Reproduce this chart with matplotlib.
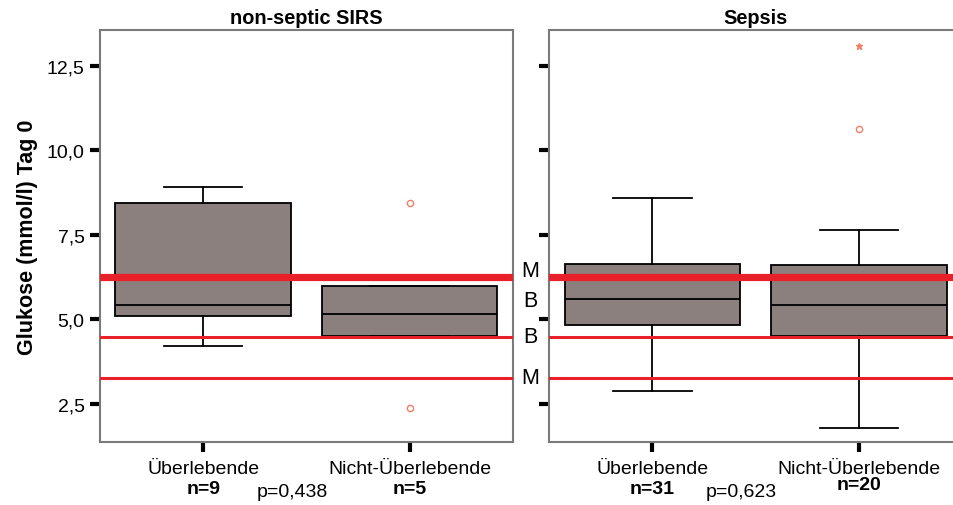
import matplotlib
matplotlib.use('Agg')
import matplotlib.pyplot as plt

plt.rcParams['font.family'] = ['Liberation Sans', 'DejaVu Sans']

# Gruppen und Boxplot-Kennwerte (mmol/l)
gruppen = ['Überlebende', 'Nicht-Überlebende']
panels = ['non-septic SIRS', 'Sepsis']
n_werte = [['n=9', 'n=5'], ['n=31', 'n=20']]
p_werte = ['p=0,438', 'p=0,623']

median = [[5.42, 5.15], [5.60, 5.42]]
q1 = [[5.10, 4.50], [4.83, 4.50]]
q3 = [[8.45, 5.98], [6.63, 6.60]]
whislo = [[4.21, 4.50], [2.88, 1.79]]
whishi = [[8.90, 5.98], [8.58, 7.63]]
ausreisser = [[[], [8.43, 2.38]], [[], [10.61]]]
extremwerte = [[[], []], [[], [13.09]]]

# Referenzlinien: M / B Grenzwerte
ref_linien = [6.25, 4.48, 3.27]
ref_breite = [5.2, 2.2, 2.2]
ref_text = ['M', 'B', 'B', 'M']
ref_text_y = [6.43, 5.55, 4.48, 3.27]

box_farbe = '#8c807e'
rot = '#e8202a'
ausreisser_farbe = '#ee7f68'
rahmen = '#7a7a7a'

fig = plt.figure(figsize=(9.54, 5.06), dpi=100)
ax1 = fig.add_axes([0.1048, 0.1245, 0.4329, 0.8142])
ax2 = fig.add_axes([0.5755, 0.1245, 0.4329, 0.8142])

for i, ax in enumerate([ax1, ax2]):
    stats = []
    for j in range(2):
        stats.append(dict(med=median[i][j], q1=q1[i][j], q3=q3[i][j],
                          whislo=whislo[i][j], whishi=whishi[i][j],
                          fliers=ausreisser[i][j]))
    ax.bxp(stats, positions=[0, 1], widths=0.85, patch_artist=True,
           showcaps=True,
           boxprops=dict(facecolor=box_farbe, edgecolor='black', linewidth=1.3),
           medianprops=dict(color='black', linewidth=1.3),
           whiskerprops=dict(color='black', linewidth=1.3),
           capprops=dict(color='black', linewidth=1.3),
           capwidths=0.38,
           flierprops=dict(marker='o', markersize=4.5, markerfacecolor='none',
                           markeredgecolor=ausreisser_farbe, markeredgewidth=1))
    for j in range(2):
        if extremwerte[i][j]:
            ax.plot([j] * len(extremwerte[i][j]), extremwerte[i][j], marker='*',
                    linestyle='none', markersize=5, color=ausreisser_farbe)

    for y, lw in zip(ref_linien, ref_breite):
        ax.axhline(y, color=rot, linewidth=lw, zorder=5)

    ax.set_xlim(-0.5, 1.5)
    ax.set_ylim(1.37, 13.55)
    ax.set_yticks([2.5, 5.0, 7.5, 10.0, 12.5])
    ax.set_xticks([0, 1])
    ax.set_xticklabels(gruppen, fontsize=14)
    ax.tick_params(axis='both', direction='out', length=7, width=3,
                   color='black', pad=4)
    ax.tick_params(axis='x', pad=6)
    for s in ax.spines.values():
        s.set_color(rahmen)
        s.set_linewidth(1.5)
    ax.set_title(panels[i], fontsize=14.3, fontweight='bold', pad=5)

    trans = ax.get_xaxis_transform()
    for j in range(2):
        ny = -0.113 if not (i == 1 and j == 1) else -0.103
        ax.text(j, ny, n_werte[i][j], transform=trans, ha='center', va='center',
                fontsize=14, fontweight='bold')
    ax.text(0.43, -0.12, p_werte[i], transform=trans, ha='center', va='center',
            fontsize=14)

ax1.set_yticklabels(['2,5', '5,0', '7,5', '10,0', '12,5'], fontsize=14)
ax2.set_yticklabels([])
ax2.spines['right'].set_visible(False)
ax1.set_ylabel('Glukose (mmol/l) Tag 0', fontsize=15.5, fontweight='bold', labelpad=6)

# Beschriftung der Grenzwerte zwischen den Panels
ytrans = ax1.get_yaxis_transform()
for t, y in zip(ref_text, ref_text_y):
    ax1.text(1.041, y, t, transform=ytrans, ha='center', va='center',
             fontsize=15.5, clip_on=False)

fig.savefig('out.png', dpi=100)
